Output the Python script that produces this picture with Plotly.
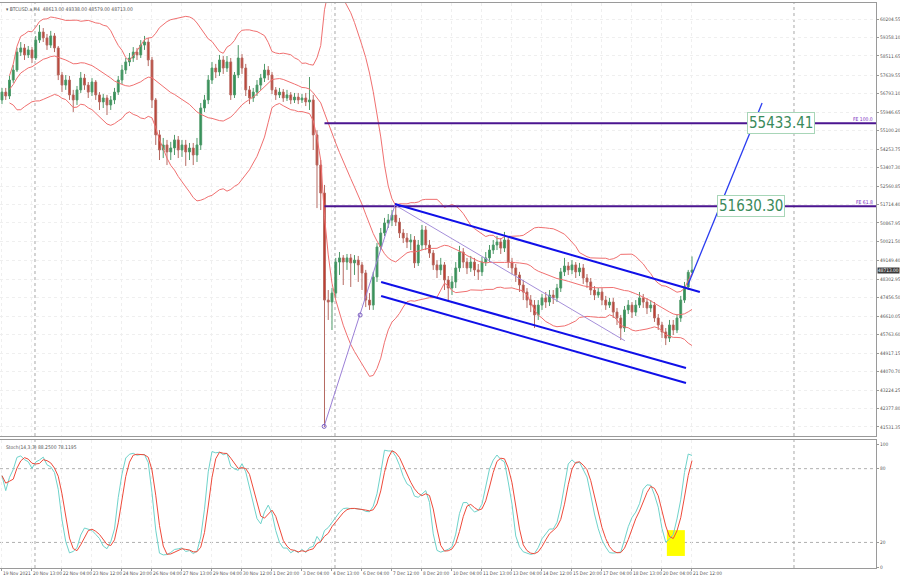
import numpy as np
import pandas as pd
import plotly.graph_objects as go

# ---------------- data ----------------
header_text = "BTCUSD.a,H4  48613.00 49338.00 48579.00 48713.00"
stoch_text = "Stoch(14,3,3) 88.2500 78.1195"

first_open = 56500
closes = [
    56860, 56680, 57410, 57870, 58690, 58880, 58560, 58790, 58420, 59240,
    59610, 59340, 59010, 59430, 58880, 57640, 57180, 57410, 56730, 56500,
    56960, 57500, 57180, 56860, 57320, 56730, 56410, 56590, 56270, 56500,
    56860, 57410, 57870, 58240, 58420, 58690, 58560, 59010, 59150, 58330,
    56500, 54900, 54210, 54440, 54120, 54300, 54670, 54210, 54440, 54120,
    54300, 53980, 54440, 56130, 56500, 57410, 57960, 57780, 58330, 57960,
    58240, 56730, 57640, 58420, 57960, 56960, 56590, 56860, 57180, 57500,
    57870, 57640, 56960, 56730, 56860, 56590, 56730, 56500, 56630, 56500,
    56590, 56410, 56500, 54900, 53520, 52240, 47340, 47250, 47660, 49080,
    49270, 49080, 49270, 49040, 49170, 48950, 48580, 47340, 47110, 48400,
    49770, 50410, 50870, 51000, 51230, 50910, 50410, 50180, 50000, 50090,
    49040, 49860, 50550, 49860, 49490, 48950, 48720, 48950, 48260, 47890,
    48170, 48810, 49540, 49080, 48810, 49080, 48720, 48630, 49080, 49270,
    49630, 49860, 50000, 49720, 50090, 49080, 48810, 48490, 48030, 47710,
    47340, 47110, 46660, 47110, 47440, 47250, 47570, 47440, 47890, 48630,
    48900, 48720, 48950, 48630, 48810, 48350, 48170, 47800, 47570, 47710,
    47340, 47110, 47250, 46790, 46520, 46060, 46890, 47110, 46790, 47110,
    47440, 47250, 46980, 47110, 46520, 46200, 45880, 45600, 46200, 45970,
    46520, 47340, 47940, 48613, 48713,
]
highs = [
    57050, 57050, 57600, 58100, 58880, 59150, 59060, 58970, 58920, 59430,
    59930, 59790, 59520, 59660, 59560, 58970, 57780, 57640, 57600, 56960,
    57140, 57780, 57690, 57320, 57500, 57410, 56860, 56770, 56730, 56680,
    57050, 57600, 58100, 58420, 58650, 58920, 58880, 59240, 59430, 59340,
    58470, 56590, 55120, 54760, 54670, 54580, 54900, 54850, 54670, 54670,
    54530, 54530, 54760, 56360, 56730, 57640, 58240, 58150, 58560, 58510,
    58510, 58420, 57780, 59010, 58600, 58150, 57140, 57050, 57410, 57690,
    58150, 58050, 57780, 57090, 57050, 57000, 56960, 56860, 56820, 56820,
    56770, 56820, 57550, 56730, 55120, 53750, 52610, 47800, 47890, 49270,
    49540, 49400, 49450, 49450, 49400, 49360, 49080, 48720, 47660, 48630,
    49950, 50640, 51100, 51280, 51460, 51780, 51100, 50590, 50410, 50360,
    50270, 50090, 50780, 50730, 50090, 49630, 49170, 49270, 49080, 48440,
    48440, 49080, 49820, 49720, 49270, 49360, 49270, 48990, 49310, 49540,
    49860, 50090, 50270, 50180, 50460, 50270, 49270, 48990, 48630, 48260,
    47890, 47570, 47340, 47340, 47620, 47710, 47800, 47800, 48080, 48810,
    49270, 49080, 49170, 49080, 49040, 48990, 48530, 48350, 47980, 47890,
    47890, 47530, 47440, 47440, 46980, 46660, 47070, 47340, 47250, 47340,
    47710, 47620, 47440, 47340, 47250, 46700, 46340, 46060, 46430, 46430,
    46700, 47530, 48170, 48720, 49338,
]
lows = [
    56310, 56500, 56540, 57280, 57780, 58510, 58330, 58420, 58190, 58330,
    59110, 59150, 58790, 58880, 58690, 57410, 56860, 56960, 56500, 55950,
    56270, 56820, 56960, 56590, 56680, 56500, 56040, 56130, 55810, 56040,
    56310, 56730, 57230, 57690, 58050, 58240, 58330, 58420, 58790, 58050,
    56130, 54440, 53750, 53840, 53520, 53750, 53980, 53840, 53890, 53480,
    53750, 53520, 53660, 54210, 55950, 56310, 57230, 57500, 57600, 57690,
    57780, 56500, 56590, 57500, 57690, 56680, 56310, 56410, 56680, 56960,
    57320, 57410, 56770, 56500, 56590, 56410, 56450, 56310, 56360, 56310,
    56360, 56220, 56040, 54210, 51550, 51460, 41530, 46430, 45970, 47440,
    48490, 48030, 48720, 47940, 48490, 48170, 47800, 47020, 46890, 46890,
    48170, 49630, 50270, 50640, 50730, 50730, 50180, 49950, 49720, 49630,
    48810, 48900, 49630, 49630, 49270, 48720, 48350, 48490, 47800, 47340,
    47570, 47890, 48630, 48810, 48530, 48630, 48440, 48260, 48440, 48900,
    49080, 49450, 49630, 49450, 49540, 48810, 48530, 48170, 47710, 47340,
    46980, 46790, 46060, 46430, 46890, 46980, 47070, 47160, 47250, 47710,
    48440, 48490, 48530, 48350, 48440, 48080, 47890, 47570, 47340, 47440,
    47110, 46890, 46980, 46520, 46200, 45510, 45880, 46700, 46520, 46610,
    46980, 46980, 46700, 46790, 46340, 45970, 45600, 45280, 45420, 45740,
    45830, 46340, 47210, 47800, 48579,
]

time_labels = ["19 Nov 2021", "20 Nov 13:00", "22 Nov 04:00", "23 Nov 12:00",
               "24 Nov 20:00", "26 Nov 04:00", "27 Nov 13:00", "29 Nov 04:00",
               "30 Nov 12:00", "1 Dec 20:00", "3 Dec 04:00", "4 Dec 13:00",
               "6 Dec 04:00", "7 Dec 12:00", "8 Dec 20:00", "10 Dec 04:00",
               "11 Dec 13:00", "13 Dec 04:00", "14 Dec 12:00", "15 Dec 20:00",
               "17 Dec 04:00", "18 Dec 13:00", "20 Dec 04:00", "21 Dec 12:00"]
price_ticks = [60204.55, 59358.10, 58511.65, 57639.55, 56793.10, 55946.65,
               55100.20, 54253.75, 53407.30, 52560.85, 51714.40, 50867.95,
               50021.50, 49149.40, 48302.95, 47456.50, 46610.05, 45763.60,
               44917.15, 44070.70, 43224.25, 42377.80, 41531.35]
stoch_ticks = [100, 80, 20, 0]

fe_names = ["FE 100.0", "FE 61.8"]
fe_levels = [55433.41, 51630.30]
fe_start_bar = 86
current_price = 48713.00

# analyst drawings (bar index, price)
chan_upper_bar, chan_upper_px = [104.8, 186.1], [51737, 47709]
chan_mid_bar, chan_mid_px = [101.1, 182.4], [48167, 44231]
chan_low_bar, chan_low_px = [101.1, 182.4], [47526, 43544]
fe_ab_bar, fe_ab_px = [85.9, 104.8], [41560, 51690]
fe_handle_bar, fe_handle_px = [85.9, 95.5], [41560, 46656]
fe_bc_bar, fe_bc_px = [104.8, 166.1], [51690, 45478]
proj_bar, proj_px = [182.9, 202.7], [48030, 56360]

# ---------------- derived ----------------
n = len(closes)
bars = np.arange(n)
opens = [first_open] + closes[:-1]
c = pd.Series(closes, dtype=float)
h = pd.Series(highs, dtype=float)
l = pd.Series(lows, dtype=float)

bb_mid = c.rolling(20, min_periods=3).mean()
bb_sd = c.rolling(20, min_periods=3).std(ddof=0)
bb_up = bb_mid + 2 * bb_sd
bb_lo = bb_mid - 2 * bb_sd

ll = l.rolling(14, min_periods=1).min()
hh = h.rolling(14, min_periods=1).max()
st_main = 100 * (c - ll).rolling(3, min_periods=1).sum() / (hh - ll).rolling(3, min_periods=1).sum()
st_sig = st_main.rolling(3, min_periods=1).mean()

XR = [-0.53, 233.07]
BB_COL = "#f07070"
PURPLE = "#4b1590"
SMALL = "DejaVu Sans Condensed, DejaVu Sans, sans-serif"

fig = go.Figure()

fig.add_trace(go.Candlestick(
    x=bars, open=opens, high=highs, low=lows, close=closes,
    increasing=dict(line=dict(color="#4f9a6a", width=1), fillcolor="#2f8f55"),
    decreasing=dict(line=dict(color="#b66a62", width=1), fillcolor="#c0392b"),
    whiskerwidth=0, hoverinfo="skip", xaxis="x", yaxis="y", showlegend=False))

for ser in (bb_up, bb_mid, bb_lo):
    fig.add_trace(go.Scatter(x=bars, y=ser, mode="lines",
                             line=dict(color=BB_COL, width=1),
                             hoverinfo="skip", showlegend=False))

for lvl in fe_levels:
    fig.add_trace(go.Scatter(x=[fe_start_bar, XR[1]], y=[lvl, lvl], mode="lines",
                             line=dict(color=PURPLE, width=2),
                             hoverinfo="skip", showlegend=False))

fig.add_trace(go.Scatter(x=fe_ab_bar, y=fe_ab_px, mode="lines",
                         line=dict(color="#9b7fd6", width=1), hoverinfo="skip", showlegend=False))
fig.add_trace(go.Scatter(x=fe_handle_bar, y=fe_handle_px, mode="markers",
                         marker=dict(symbol="circle-open", size=4, color="#7b5fc0"),
                         hoverinfo="skip", showlegend=False))
fig.add_trace(go.Scatter(x=fe_bc_bar, y=fe_bc_px, mode="lines",
                         line=dict(color="#a58fd9", width=1), hoverinfo="skip", showlegend=False))

for bx, py in ((chan_upper_bar, chan_upper_px), (chan_mid_bar, chan_mid_px), (chan_low_bar, chan_low_px)):
    fig.add_trace(go.Scatter(x=bx, y=py, mode="lines",
                             line=dict(color="#1010e8", width=2),
                             hoverinfo="skip", showlegend=False))

fig.add_trace(go.Scatter(x=proj_bar, y=proj_px, mode="lines",
                         line=dict(color="#2a3cf0", width=1.3),
                         hoverinfo="skip", showlegend=False))

fig.add_trace(go.Scatter(x=bars, y=st_main, mode="lines", xaxis="x2", yaxis="y2",
                         line=dict(color="#6fd3cb", width=1), hoverinfo="skip", showlegend=False))
fig.add_trace(go.Scatter(x=bars, y=st_sig, mode="lines", xaxis="x2", yaxis="y2",
                         line=dict(color="#ee4a3a", width=1), hoverinfo="skip", showlegend=False))

shapes = []
for sx in [8.8, 88.8, 211.2]:
    for xr, yr in (("x", "y domain"), ("x2", "y2 domain")):
        shapes.append(dict(type="line", xref=xr, yref=yr, x0=sx, x1=sx, y0=0, y1=1,
                           line=dict(color="#a8a8a8", width=1, dash="dot"), layer="below"))
for lv in (80, 20):
    shapes.append(dict(type="line", xref="x2 domain", yref="y2", x0=0, x1=1, y0=lv, y1=lv,
                       line=dict(color="#b0b0b0", width=1, dash="dot"), layer="below"))
shapes.append(dict(type="rect", xref="x2", yref="y2", x0=177.3, x1=182.1, y0=9, y1=30,
                   fillcolor="#ffff00", line=dict(width=0), layer="below"))

annotations = []
annotations.append(dict(xref="paper", yref="paper", x=0.004, y=0.999, xanchor="left", yanchor="top",
                        text="▾ " + header_text, showarrow=False,
                        font=dict(size=5, color="#555", family=SMALL)))
annotations.append(dict(xref="paper", yref="y2 domain", x=0.004, y=0.985, xanchor="left", yanchor="top",
                        text=stoch_text, showarrow=False,
                        font=dict(size=5, color="#555", family=SMALL)))
for name, lvl in zip(fe_names, fe_levels):
    annotations.append(dict(xref="x", yref="y", x=XR[1] - 0.3, y=lvl, xanchor="right", yanchor="bottom",
                            text=name, showarrow=False, yshift=-1,
                            font=dict(size=5, color="#7a2ac0", family=SMALL)))
for bx, lvl in ((207.7, fe_levels[0]), (199.7, fe_levels[1])):
    annotations.append(dict(xref="x", yref="y", x=bx, y=lvl, xanchor="center", yanchor="middle",
                            text=f"{lvl:.2f}", showarrow=False,
                            bgcolor="white", bordercolor="#a8d6b8", borderwidth=1, borderpad=1,
                            font=dict(size=15, color="#3a8a5a", family=SMALL)))
annotations.append(dict(xref="paper", yref="y", x=1.0, y=current_price, xanchor="left", yanchor="middle",
                        text=f"{current_price:.2f}", showarrow=False, bgcolor="#3a3a3a",
                        borderpad=0, xshift=1,
                        font=dict(size=4.8, color="white", family=SMALL)))

axis_font = dict(size=4.8, color="#555", family=SMALL)
fig.update_layout(
    width=900, height=585,
    margin=dict(l=0, r=24, t=3, b=17),
    paper_bgcolor="white", plot_bgcolor="white",
    showlegend=False,
    xaxis=dict(domain=[0, 1], range=XR, anchor="y", showticklabels=False,
               tickvals=list(range(0, n, 8)), showgrid=True, gridcolor="#efefef", griddash="dot",
               showline=True, mirror=True, linecolor="#9a9a9a", linewidth=1,
               rangeslider=dict(visible=False), zeroline=False),
    yaxis=dict(domain=[0.2336, 1], range=[41118, 60937], side="right", anchor="x",
               tickvals=price_ticks, ticktext=[f"{v:.2f}" for v in price_ticks],
               ticks="outside", ticklen=2, tickcolor="#999", tickfont=axis_font,
               showgrid=True, gridcolor="#efefef", griddash="dot", automargin=False,
               showline=True, mirror=True, linecolor="#9a9a9a", linewidth=1, zeroline=False),
    xaxis2=dict(domain=[0, 1], range=XR, anchor="y2",
                tickvals=list(range(0, n, 8)), ticktext=time_labels, tickangle=0,
                ticks="outside", ticklen=2, tickcolor="#999", tickfont=axis_font,
                ticklabelposition="outside right", automargin=False,
                showgrid=True, gridcolor="#efefef", griddash="dot",
                showline=True, mirror=True, linecolor="#9a9a9a", linewidth=1, zeroline=False),
    yaxis2=dict(domain=[0, 0.2265], range=[-0.8, 103.3], side="right", anchor="x2",
                tickvals=stoch_ticks, ticktext=[str(v) for v in stoch_ticks],
                ticks="outside", ticklen=2, tickcolor="#999", tickfont=axis_font,
                showgrid=False, showline=True, mirror=True, linecolor="#9a9a9a", linewidth=1,
                zeroline=False, automargin=False),
    shapes=shapes, annotations=annotations,
)

fig.write_html("out.html", config={"displayModeBar": False},
               post_script="document.body.style.margin='0';document.body.style.overflow='hidden';")
